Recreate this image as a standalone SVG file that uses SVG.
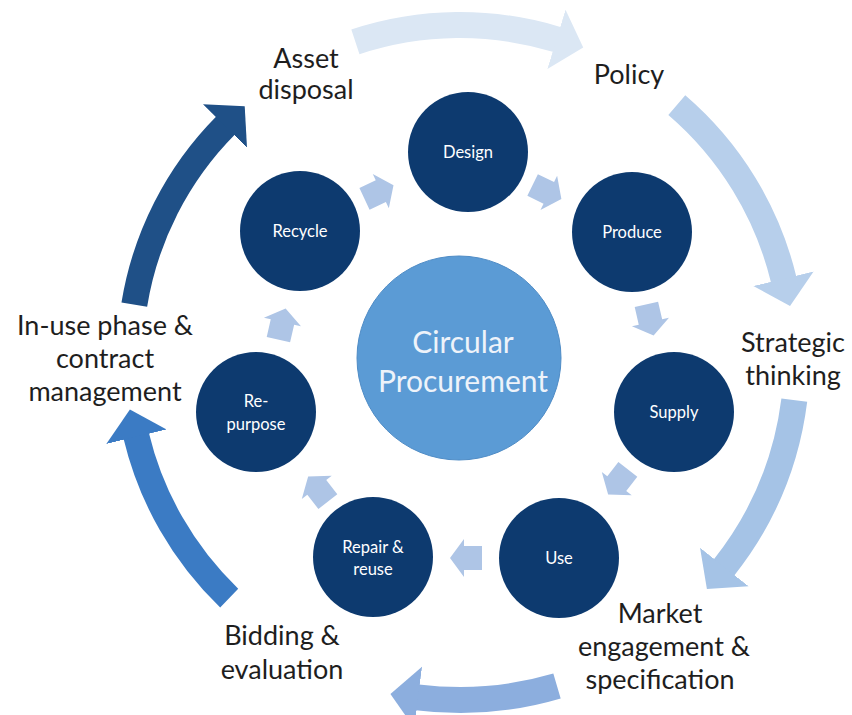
<svg xmlns="http://www.w3.org/2000/svg" width="852" height="715" viewBox="0 0 852 715">
<style>
.lbl{font-family:Lato,"Open Sans","Liberation Sans",sans-serif;font-size:27px;fill:#1e1e1e;text-anchor:middle}
.nd{fill:#0d3a6f}
.ndt{font-family:Lato,"Open Sans","Liberation Sans",sans-serif;font-size:16.5px;fill:#ffffff;text-anchor:middle}
.ctr{font-family:Lato,"Open Sans","Liberation Sans",sans-serif;font-size:30px;fill:#eef3fa;text-anchor:middle}
.band{fill:none;stroke-width:26;stroke-linecap:butt}
.sm{fill:#aec5e6}
</style>
<defs>
<marker id="h1" markerUnits="userSpaceOnUse" markerWidth="40" markerHeight="70" viewBox="0 -35 40 70" refX="1" refY="0" orient="auto"><path d="M0,-31 L28,0 L0,31 Z" fill="#dbe7f4"/></marker>
<marker id="h2" markerUnits="userSpaceOnUse" markerWidth="40" markerHeight="70" viewBox="0 -35 40 70" refX="1" refY="0" orient="auto"><path d="M0,-31 L28,0 L0,31 Z" fill="#b7cfeb"/></marker>
<marker id="h3" markerUnits="userSpaceOnUse" markerWidth="40" markerHeight="70" viewBox="0 -35 40 70" refX="1" refY="0" orient="auto"><path d="M0,-31 L28,0 L0,31 Z" fill="#a5c3e6"/></marker>
<marker id="h4" markerUnits="userSpaceOnUse" markerWidth="40" markerHeight="70" viewBox="0 -35 40 70" refX="1" refY="0" orient="auto"><path d="M0,-31 L28,0 L0,31 Z" fill="#8caede"/></marker>
<marker id="h5" markerUnits="userSpaceOnUse" markerWidth="40" markerHeight="70" viewBox="0 -35 40 70" refX="1" refY="0" orient="auto"><path d="M0,-31 L28,0 L0,31 Z" fill="#3b7bc4"/></marker>
<marker id="h6" markerUnits="userSpaceOnUse" markerWidth="40" markerHeight="70" viewBox="0 -35 40 70" refX="1" refY="0" orient="auto"><path d="M0,-31 L28,0 L0,31 Z" fill="#1f5087"/></marker>
<path id="sa" d="M-16,-12 H2 V-19 L16,0 L2,19 V12 H-16 Z"/>
</defs>
<rect width="852" height="715" fill="#ffffff"/>

<g id="connectors">
<path class="band" stroke="#dbe7f4" marker-end="url(#h1)" d="M355.4,41.9 A333,333 0 0 1 557.4,39.6"/>
<path class="band" stroke="#b7cfeb" marker-end="url(#h2)" d="M676.8,105.1 A333,333 0 0 1 783.7,279.7"/>
<path class="band" stroke="#a5c3e6" marker-end="url(#h3)" d="M794.3,400.2 A337,337 0 0 1 723.7,567.8"/>
<path class="band" stroke="#8caede" marker-end="url(#h4)" d="M557,686 A342,342 0 0 1 417.2,697.3"/>
<path class="band" stroke="#3b7bc4" marker-end="url(#h5)" d="M229.2,598.1 A333,333 0 0 1 136.2,435.7"/>
<path class="band" stroke="#1f5087" marker-end="url(#h6)" d="M134.3,304.6 A330,330 0 0 1 225.7,125.3"/>
<use href="#sa" class="sm" transform="translate(379,192) rotate(-25)"/>
<use href="#sa" class="sm" transform="translate(547,192) rotate(26)"/>
<use href="#sa" class="sm" transform="translate(650,320) rotate(77)"/>
<use href="#sa" class="sm" transform="translate(618,482) rotate(128)"/>
<use href="#sa" class="sm" transform="translate(466,558) rotate(180)"/>
<use href="#sa" class="sm" transform="translate(318,489) rotate(232)"/>
<use href="#sa" class="sm" transform="translate(282,324) rotate(-77)"/>
</g>

<g id="center">
<circle cx="459" cy="358" r="102" fill="#5b9bd5" stroke="#4f8cc6" stroke-width="1"/>
<text class="ctr" x="463" y="353">Circular</text>
<text class="ctr" x="463" y="392">Procurement</text>
</g>

<g id="design"><circle class="nd" cx="468" cy="152" r="60"/><text class="ndt" x="468" y="158">Design</text></g>
<g id="produce"><circle class="nd" cx="632" cy="232" r="60"/><text class="ndt" x="632" y="238">Produce</text></g>
<g id="supply"><circle class="nd" cx="674" cy="412" r="60"/><text class="ndt" x="674" y="418">Supply</text></g>
<g id="use"><circle class="nd" cx="559" cy="558" r="60"/><text class="ndt" x="559" y="564">Use</text></g>
<g id="repair"><circle class="nd" cx="373" cy="557" r="60"/><text class="ndt" x="373" y="553">Repair &amp;</text><text class="ndt" x="373" y="575">reuse</text></g>
<g id="repurpose"><circle class="nd" cx="256" cy="412" r="60"/><text class="ndt" x="256" y="407">Re-</text><text class="ndt" x="256" y="430">purpose</text></g>
<g id="recycle"><circle class="nd" cx="300" cy="231" r="60"/><text class="ndt" x="300" y="237">Recycle</text></g>

<g id="asset-disposal"><text class="lbl" x="306" y="68">Asset</text><text class="lbl" x="306" y="99">disposal</text></g>
<g id="policy"><text class="lbl" x="629" y="84">Policy</text></g>
<g id="strategic"><text class="lbl" x="793" y="352">Strategic</text><text class="lbl" x="793" y="385">thinking</text></g>
<g id="market"><text class="lbl" x="660" y="623">Market</text><text class="lbl" x="664" y="656">engagement &amp;</text><text class="lbl" x="660" y="689">specification</text></g>
<g id="bidding"><text class="lbl" x="282" y="645">Bidding &amp;</text><text class="lbl" x="282" y="679">evaluation</text></g>
<g id="inuse"><text class="lbl" x="105" y="335">In-use phase &amp;</text><text class="lbl" x="105" y="368">contract</text><text class="lbl" x="105" y="401">management</text></g>
</svg>
